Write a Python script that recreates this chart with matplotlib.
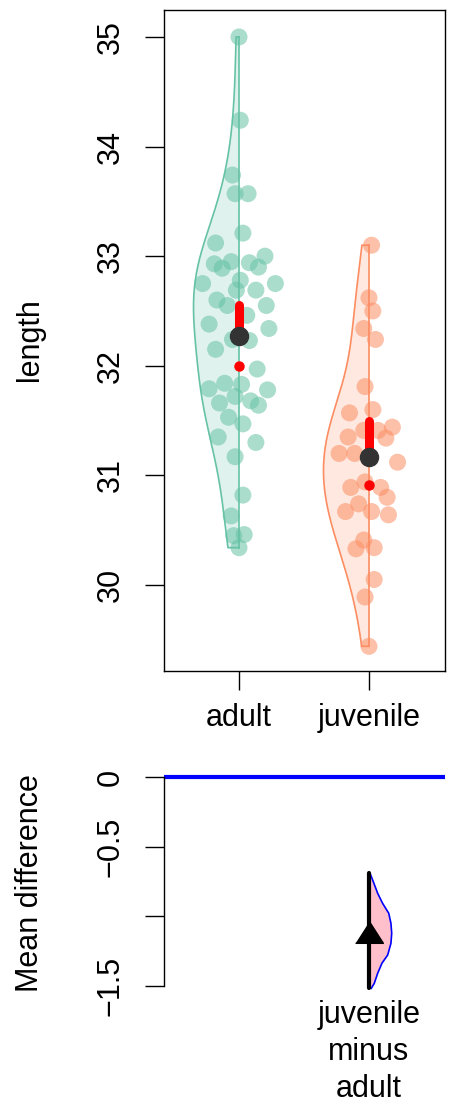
import numpy as np
import matplotlib
matplotlib.use("Agg")
import matplotlib.pyplot as plt

plt.rcParams["font.family"] = ["Liberation Sans", "DejaVu Sans"]

# data
groups = ["adult", "juvenile"]
colors = ["#66C2A5", "#FC8D62"]

adult_len = [35.0, 34.24, 33.74, 33.57, 33.57, 33.21, 33.12, 32.93, 32.89, 32.95,
             32.94, 33.00, 32.90, 32.75, 32.78, 32.75, 32.69, 32.69, 32.60, 32.55,
             32.55, 32.46, 32.38, 32.34, 32.24, 32.23, 32.15, 31.97, 31.79, 31.84,
             31.83, 31.78, 31.72, 31.66, 31.68, 31.64, 31.53, 31.47, 31.35, 31.30,
             31.17, 30.82, 30.63, 30.45, 30.46, 30.34]
adult_jit = [0, 0.01, -0.05, -0.03, 0.07, 0.03, -0.18, -0.19, -0.13, -0.06,
             0.08, 0.20, 0.15, -0.28, 0.01, 0.28, -0.02, 0.13, -0.17, -0.09,
             0.21, 0.06, -0.23, 0.23, -0.05, 0.08, -0.18, 0.14, -0.23, -0.11,
             0.02, 0.22, -0.03, -0.15, 0.09, 0.15, -0.08, 0.03, -0.16, 0.13,
             -0.03, 0.03, -0.06, -0.04, 0.04, 0.0]

juv_len = [33.10, 32.62, 32.50, 32.34, 32.24, 31.81, 31.57, 31.60, 31.41, 31.41,
           31.44, 31.35, 31.34, 31.20, 31.20, 31.12, 30.94, 30.89, 30.89, 30.80,
           30.74, 30.67, 30.67, 30.64, 30.41, 30.33, 30.34, 30.05, 29.89, 29.44]
juv_jit = [0.02, 0, 0.03, -0.04, 0.05, -0.03, -0.15, 0.03, -0.04, 0.07,
           0.18, -0.16, 0.13, -0.23, -0.11, 0.22, -0.03, -0.14, 0.09, 0.14,
           -0.08, -0.18, 0.02, 0.15, -0.04, -0.10, 0.04, 0.04, -0.03, 0]

ci_lo = [32.00, 30.91]
ci_hi = [32.55, 31.50]

diff_label = "juvenile\nminus\nadult"
diff_ci = [-1.515, -0.69]
boot_y = [-0.691, -0.739, -0.835, -0.907, -0.978, -1.050, -1.122, -1.194,
          -1.278, -1.337, -1.409, -1.481, -1.517]
boot_w = [0.008, 0.028, 0.067, 0.105, 0.152, 0.169, 0.175, 0.169,
          0.144, 0.100, 0.067, 0.041, 0.018]

W, H = 450, 1109
fig = plt.figure(figsize=(W / 100, H / 100), dpi=100)


def px_axes(x0, y0, x1, y1):
    return fig.add_axes([x0 / W, 1 - y1 / H, (x1 - x0) / W, (y1 - y0) / H])


FS = 22

# ---- top panel ----
ax = px_axes(164, 10, 445, 671)
ax.set_xlim(0.423, 2.585)
ax.set_ylim(29.215, 35.246)

for i, (vals, jit) in enumerate([(adult_len, adult_jit), (juv_len, juv_jit)]):
    pos = i + 1
    v = np.array(vals)
    n = len(v)
    # normal-reference bandwidth
    bw = 1.06 * v.std(ddof=1) * n ** -0.2
    yy = np.linspace(v.min(), v.max(), 200)
    dens = np.exp(-0.5 * ((yy[:, None] - v[None, :]) / bw) ** 2).sum(axis=1)
    dens = dens / dens.max() * 0.35
    xs = np.concatenate([[pos], pos - dens, [pos]])
    ys = np.concatenate([[yy[0]], yy, [yy[-1]]])
    ax.fill(xs, ys, facecolor=colors[i], alpha=0.2, edgecolor="none")
    ax.plot(xs, ys, color=colors[i], lw=1.2)
    ax.plot([pos, pos], [yy[0], yy[-1]], color=colors[i], lw=1.2)

    ax.scatter(pos + np.array(jit), v, s=150, color=colors[i], alpha=0.55,
               edgecolors="none", zorder=3)

    m = v.mean()
    ax.plot([pos, pos], [m, ci_hi[i]], color="red", lw=6.5,
            solid_capstyle="round", zorder=4)
    ax.plot(pos, ci_lo[i], "o", color="red", markersize=6.5, zorder=4)
    ax.plot(pos, m, "o", color="#333333", markersize=13, zorder=5)

ax.set_xticks([1, 2])
ax.set_xticklabels(groups, fontsize=FS)
ax.set_yticks([30, 31, 32, 33, 34, 35])
ax.set_yticklabels(["30", "31", "32", "33", "34", "35"], fontsize=FS,
                   rotation=90, va="center")
ax.tick_params(axis="both", length=13.7, width=1)
ax.tick_params(axis="y", pad=14)
ax.tick_params(axis="x", pad=9)
for s in ax.spines.values():
    s.set_linewidth(1)
fig.text(30 / W, 1 - 340 / H, "length", rotation=90, fontsize=FS,
         ha="center", va="center")

# ---- bottom panel ----
ax2 = px_axes(164, 765, 445, 995)
ax2.set_xlim(0.423, 2.585)
ax2.set_ylim(-1.565, 0.086)
for s in ["top", "right", "bottom"]:
    ax2.spines[s].set_visible(False)
ax2.spines["left"].set_bounds(-1.5, 0)
ax2.spines["left"].set_linewidth(1)
ax2.set_xticks([])
ax2.set_yticks([0, -0.5, -1, -1.5])
ax2.set_yticklabels(["0", "\u22120.5", "", "\u22121.5"], fontsize=FS,
                    rotation=90, va="center")
ax2.tick_params(axis="y", length=13.7, width=1, pad=14)

ax2.axhline(0, color="blue", lw=3, solid_capstyle="round")

bx = 2 + np.array(boot_w)
ax2.fill_betweenx(boot_y, 2, bx, facecolor="pink", edgecolor="none")
ax2.plot(bx, boot_y, color="blue", lw=1.2)
ax2.plot([2, 2], diff_ci, color="black", lw=3, solid_capstyle="round")
mdiff = np.mean(juv_len) - np.mean(adult_len)
ax2.plot(2, mdiff, marker=[(-1, -0.78), (1, -0.78), (0, 0.78)],
         color="black", markersize=20, zorder=5)

fig.text(369 / W, 1 - 1052 / H, diff_label, fontsize=FS, ha="center",
         va="center", linespacing=1.3)
fig.text(30 / W, 1 - 883 / H, "Mean difference", rotation=90, fontsize=FS,
         ha="center", va="center")

fig.savefig("out.png", dpi=100)
